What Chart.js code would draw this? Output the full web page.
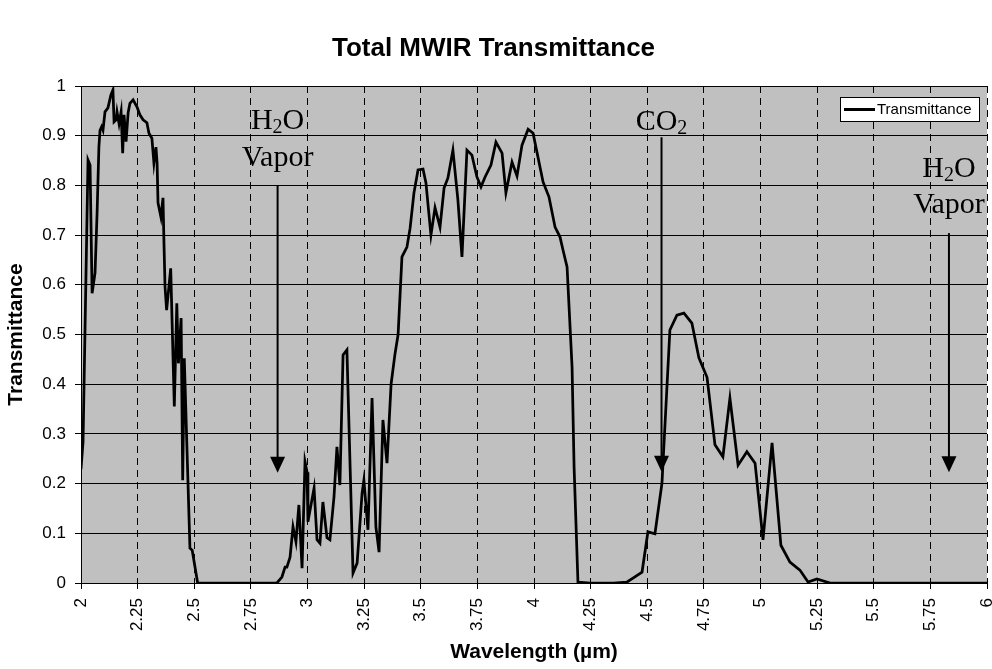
<!DOCTYPE html>
<html><head><meta charset="utf-8">
<script src="https://cdn.jsdelivr.net/npm/chart.js@4/dist/chart.umd.min.js"></script>
<style>html,body{margin:0;padding:0;background:#fff;}</style>
</head><body>
<canvas id="c" width="992" height="669" style="display:block;width:992px;height:669px"></canvas>
<script>
const chartTitle = 'Total MWIR Transmittance';
const seriesName = 'Transmittance';
const xAxisTitle = 'Wavelength (µm)';
const yAxisTitle = 'Transmittance';

const wavelengths = [
  2.000,2.009,2.031,2.040,2.049,2.062,2.071,2.079,2.084,2.091,
  2.097,2.106,2.119,2.132,2.141,2.146,2.155,2.159,2.168,2.177,
  2.184,2.190,2.199,2.208,2.216,2.230,2.247,2.260,2.274,2.291,
  2.300,2.313,2.322,2.331,2.336,2.340,2.353,2.362,2.366,2.371,
  2.378,2.396,2.412,2.423,2.430,2.442,2.449,2.456,2.481,2.491,
  2.515,2.600,2.700,2.800,2.865,2.887,2.901,2.909,2.923,2.936,
  2.949,2.962,2.976,2.989,2.998,3.002,3.029,3.042,3.055,3.068,
  3.086,3.099,3.117,3.130,3.143,3.157,3.174,3.201,3.219,3.241,
  3.249,3.267,3.285,3.302,3.316,3.333,3.351,3.369,3.386,3.400,
  3.417,3.439,3.453,3.470,3.488,3.510,3.523,3.545,3.563,3.585,
  3.603,3.620,3.642,3.664,3.682,3.704,3.726,3.748,3.766,3.784,
  3.810,3.832,3.859,3.876,3.903,3.925,3.947,3.974,3.996,4.013,
  4.040,4.066,4.093,4.115,4.128,4.146,4.168,4.177,4.194,4.250,
  4.300,4.350,4.411,4.437,4.477,4.503,4.534,4.565,4.600,4.631,
  4.662,4.697,4.728,4.764,4.799,4.834,4.865,4.901,4.940,4.976,
  5.011,5.051,5.090,5.130,5.174,5.210,5.249,5.307,5.500,5.750,
  6.000
];
const transmittance = [
  0.229,0.284,0.851,0.841,0.583,0.624,0.744,0.877,0.911,0.918,
  0.911,0.948,0.956,0.982,0.992,0.928,0.932,0.948,0.924,0.948,
  0.865,0.942,0.888,0.946,0.965,0.972,0.958,0.942,0.932,0.926,
  0.905,0.895,0.845,0.877,0.845,0.765,0.736,0.775,0.690,0.596,
  0.549,0.633,0.355,0.563,0.442,0.533,0.207,0.452,0.070,0.066,
  0,0,0,0,0,0.012,0.032,0.032,0.052,0.113,
  0.083,0.157,0.030,0.244,0.223,0.123,0.191,0.087,0.080,0.163,
  0.091,0.087,0.173,0.274,0.197,0.459,0.469,0.020,0.040,0.181,
  0.207,0.107,0.372,0.113,0.062,0.328,0.241,0.400,0.460,0.500,
  0.656,0.676,0.714,0.785,0.831,0.833,0.805,0.700,0.755,0.716,
  0.795,0.815,0.871,0.771,0.656,0.871,0.861,0.817,0.797,0.817,
  0.841,0.887,0.865,0.785,0.847,0.819,0.881,0.913,0.905,0.867,
  0.807,0.777,0.716,0.696,0.670,0.636,0.435,0.233,0.002,0,
  0,0,0.002,0.010,0.022,0.103,0.099,0.201,0.509,0.539,
  0.543,0.523,0.453,0.414,0.278,0.254,0.372,0.237,0.264,0.241,
  0.087,0.282,0.076,0.042,0.026,0.002,0.008,0,0,0,
  0
];

const xTickLabels = ['2','2.25','2.5','2.75','3','3.25','3.5','3.75','4','4.25','4.5','4.75','5','5.25','5.5','5.75','6'];
const yTickLabels = ['0','0.1','0.2','0.3','0.4','0.5','0.6','0.7','0.8','0.9','1'];

// text annotations (in data units)
const noteTexts = [
  [[['H',false],['2',true],['O',false]], [['Vapor',false]]],
  [[['CO',false],['2',true]]],
  [[['H',false],['2',true],['O',false]], [['Vapor',false]]]
];
const noteX = [2.868, 4.563, 5.832];
const noteLineY = [[0.913, 0.839], [0.911], [0.817, 0.744]];
const arrowFromY = [0.801, 0.897, 0.704];
const arrowToY = [0.222, 0.224, 0.223];

const points = wavelengths.map((w, i) => ({x: w, y: transmittance[i]}));

const SANS = '"Liberation Sans", Arial, sans-serif';
const SERIF = '"Liberation Serif", "Times New Roman", serif';
Chart.defaults.font.family = SANS;
Chart.defaults.color = '#000';

const decor = {
  id: 'decor',
  beforeDraw(chart) {
    const {ctx, chartArea: a} = chart;
    ctx.save();
    ctx.fillStyle = '#C0C0C0';
    ctx.fillRect(a.left, a.top, a.right - a.left, a.bottom - a.top);
    ctx.restore();
  },
  afterDraw(chart) {
    const {ctx, chartArea: a, scales: {x, y}} = chart;
    ctx.save();
    noteTexts.forEach((lines, n) => {
      const cx = x.getPixelForValue(noteX[n]);
      lines.forEach((parts, li) => {
        const base = y.getPixelForValue(noteLineY[n][li]);
        let total = 0;
        const widths = parts.map(([t, sub]) => {
          ctx.font = (sub ? '20px ' : '30px ') + SERIF;
          const w = ctx.measureText(t).width; total += w; return w;
        });
        let px = cx - total / 2;
        ctx.fillStyle = '#000';
        ctx.textBaseline = 'alphabetic';
        ctx.textAlign = 'left';
        parts.forEach(([t, sub], k) => {
          ctx.font = (sub ? '20px ' : '30px ') + SERIF;
          ctx.fillText(t, px, base + (sub ? 4 : 0));
          px += widths[k];
        });
      });
      const y0 = y.getPixelForValue(arrowFromY[n]);
      const y1 = y.getPixelForValue(arrowToY[n]);
      ctx.strokeStyle = '#000';
      ctx.lineWidth = 2;
      ctx.beginPath();
      ctx.moveTo(cx, y0);
      ctx.lineTo(cx, y1 - 14);
      ctx.stroke();
      ctx.fillStyle = '#000';
      ctx.beginPath();
      ctx.moveTo(cx - 7.5, y1 - 16);
      ctx.lineTo(cx + 7.5, y1 - 16);
      ctx.lineTo(cx, y1);
      ctx.closePath();
      ctx.fill();
    });
    const lx = a.right - 147, ly = a.top + 11, lw = 139, lh = 24;
    ctx.fillStyle = '#fff';
    ctx.fillRect(lx, ly, lw, lh);
    ctx.strokeStyle = '#000';
    ctx.lineWidth = 1;
    ctx.strokeRect(lx + 0.5, ly + 0.5, lw, lh);
    ctx.lineWidth = 3;
    ctx.beginPath();
    ctx.moveTo(lx + 4, ly + 12.5);
    ctx.lineTo(lx + 35, ly + 12.5);
    ctx.stroke();
    ctx.fillStyle = '#000';
    ctx.font = '15px ' + SANS;
    ctx.textBaseline = 'middle';
    ctx.textAlign = 'left';
    ctx.fillText(chart.data.datasets[0].label, lx + 37, ly + 12.5);
    ctx.restore();
  }
};

new Chart(document.getElementById('c'), {
  type: 'line',
  data: {
    datasets: [{
      label: seriesName,
      data: points,
      borderColor: '#000',
      borderWidth: 2.75,
      pointRadius: 0,
      tension: 0,
      fill: false
    }]
  },
  options: {
    responsive: false,
    animation: false,
    devicePixelRatio: 1,
    layout: {padding: {left: 0, right: 5, top: 0, bottom: 0}},
    plugins: {
      legend: {display: false},
      tooltip: {enabled: false},
      title: {
        display: true, text: chartTitle, color: '#000',
        font: {size: 26, weight: 'bold', family: SANS, lineHeight: 1.2},
        padding: {top: 33, bottom: 21.8}
      }
    },
    scales: {
      x: {
        type: 'linear', min: 2, max: 6,
        ticks: {
          stepSize: 0.25, autoSkip: false, maxRotation: 90, minRotation: 90,
          padding: 9, color: '#000', font: {size: 17},
          callback: (v) => xTickLabels[Math.round((v - 2) * 4)]
        },
        grid: {color: '#000', lineWidth: 1, tickLength: 6, tickColor: '#000', tickBorderDash: []},
        border: {display: true, color: '#000', width: 1, dash: [7, 5]},
        title: {display: true, text: xAxisTitle, color: '#000', font: {size: 21, weight: 'bold'}, padding: {top: 0, bottom: 4}},
        afterFit(s) { s.height = 86; s.paddingLeft = 0; s.paddingRight = 0; }
      },
      y: {
        min: 0, max: 1,
        ticks: {
          stepSize: 0.1, padding: 9, color: '#000', font: {size: 17},
          callback: (v) => yTickLabels[Math.round(v * 10)]
        },
        grid: {color: '#000', lineWidth: 1, tickLength: 6, tickColor: '#000'},
        border: {display: true, color: '#000', width: 1},
        title: {display: true, text: yAxisTitle, color: '#000', font: {size: 21, weight: 'bold'}, padding: {top: 4, bottom: 0}},
        afterFit(s) { s.width = 81; s.paddingTop = 0; s.paddingBottom = 0; }
      }
    }
  },
  plugins: [decor]
});
</script>
</body></html>
